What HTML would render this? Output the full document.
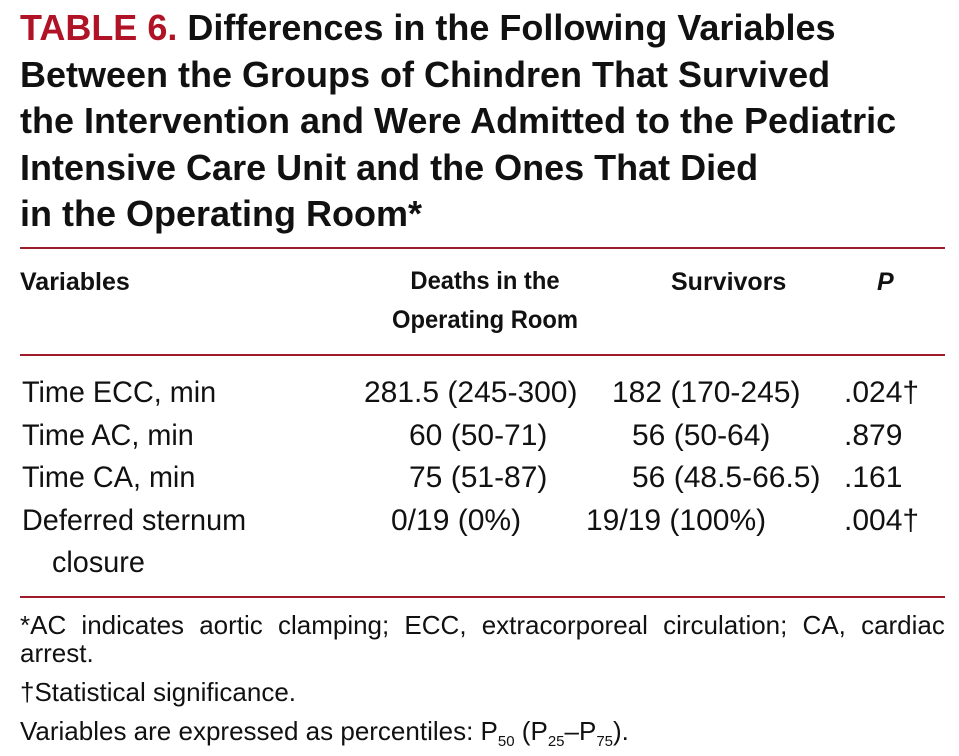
<!DOCTYPE html>
<html><head><meta charset="utf-8"><style>
body{margin:0;width:959px;height:756px;background:#fff;position:relative;overflow:hidden;font-family:"Liberation Sans Narrow","Liberation Sans",sans-serif;color:#111}
.t{position:absolute;white-space:nowrap}
.ti{font-weight:bold;font-size:36px;line-height:46.5px}
.h{font-weight:bold;font-size:25px}
.d{font-size:30px}
.f{font-size:26px}
.rule{position:absolute;left:20px;width:925px;height:2px;background:#a01c2c}
</style></head><body>
<div class="t ti" style="left:20px;top:5px"><span style="color:#b01226">TABLE 6.</span> Differences in the Following Variables<br>Between the Groups of Chindren That Survived<br>the Intervention and Were Admitted to the Pediatric<br>Intensive Care Unit and the Ones That Died<br>in the Operating Room*</div>
<div class="rule" style="top:247px"></div>
<div class="t h" style="left:20px;top:268px">Variables</div>
<div class="t h" style="left:385px;width:200px;top:262px;line-height:39px;text-align:center;transform:scaleX(0.95);transform-origin:50% 0">Deaths in the<br>Operating Room</div>
<div class="t h" style="left:671px;top:268px">Survivors</div>
<div class="t h" style="left:877px;top:268px;font-style:italic">P</div>
<div class="rule" style="top:354px"></div>

<div class="t d" style="left:22px;top:376px;transform:scaleX(0.96);transform-origin:0 0">Time ECC, min</div>
<div class="t d" style="left:22px;top:419px;transform:scaleX(0.96);transform-origin:0 0">Time AC, min</div>
<div class="t d" style="left:22px;top:461px;transform:scaleX(0.96);transform-origin:0 0">Time CA, min</div>
<div class="t d" style="left:22px;top:504px;transform:scaleX(0.96);transform-origin:0 0">Deferred sternum</div>
<div class="t d" style="left:52px;top:546px;transform:scaleX(0.96);transform-origin:0 0">closure</div>

<div class="t d" style="left:364px;top:376px">281.5 (245-300)</div>
<div class="t d" style="left:409px;top:419px">60 (50-71)</div>
<div class="t d" style="left:409px;top:461px">75 (51-87)</div>
<div class="t d" style="left:391px;top:504px">0/19 (0%)</div>

<div class="t d" style="left:612px;top:376px">182 (170-245)</div>
<div class="t d" style="left:632px;top:419px">56 (50-64)</div>
<div class="t d" style="left:632px;top:461px">56 (48.5-66.5)</div>
<div class="t d" style="left:586px;top:504px">19/19 (100%)</div>

<div class="t d" style="left:844px;top:376px">.024†</div>
<div class="t d" style="left:844px;top:419px">.879</div>
<div class="t d" style="left:844px;top:461px">.161</div>
<div class="t d" style="left:844px;top:504px">.004†</div>

<div class="rule" style="top:596px"></div>
<div class="t f" style="left:20px;top:610px;width:925px;display:flex;justify-content:space-between"><span>*AC</span><span>indicates</span><span>aortic</span><span>clamping;</span><span>ECC,</span><span>extracorporeal</span><span>circulation;</span><span>CA,</span><span>cardiac</span></div>
<div class="t f" style="left:20px;top:638px">arrest.</div>
<div class="t f" style="left:20px;top:677px">†Statistical significance.</div>
<div class="t f" style="left:20px;top:716px">Variables are expressed as percentiles: P<sub style="font-size:15px">50</sub> (P<sub style="font-size:15px">25</sub>–P<sub style="font-size:15px">75</sub>).</div>
</body></html>
